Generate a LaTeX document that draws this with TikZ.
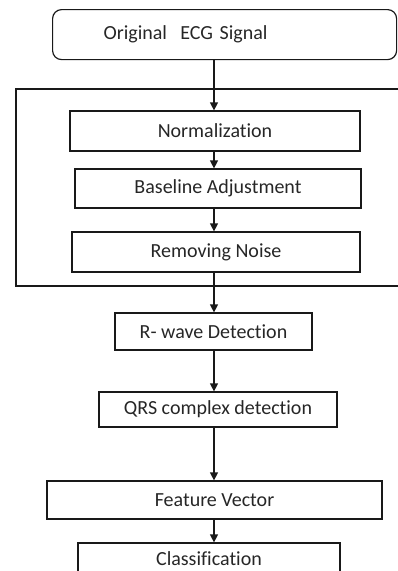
\documentclass[tikz,border=0pt]{standalone}
\usepackage{fontspec}
\setmainfont[Ligatures=NoCommon]{Carlito}
\usetikzlibrary{arrows.meta}

\begin{document}
\begin{tikzpicture}[x=1pt,y=-1pt,>={Triangle[length=8pt,width=8pt]},
  stage/.style={draw=black!90,line width=1.2pt,inner sep=0pt,text=black!85,
    font=\fontsize{20}{24}\selectfont},
  link/.style={->,draw=black!90,line width=1.2pt}]
\useasboundingbox (0,0) rectangle (398,571);
% input signal
\node[stage,rounded corners=9pt,anchor=north west,minimum width=344,minimum height=50,
  inner xsep=51,text width=242,align=left] (orig) at (52,9) {Original\ \ ECG Signal};
% preprocessing block
\draw[draw=black!90,line width=1.2pt] (398,89) -- (16,89) -- (16,286) -- (398,286);
\node[stage,minimum width=290,minimum height=40] (norm) at (215,131) {Normalization};
\node[stage,minimum width=286,minimum height=39] (base) at (218,188.5) {Baseline Adjustment};
\node[stage,minimum width=288,minimum height=40] (noise) at (216,252) {Removing Noise};
% detection and features
\node[stage,minimum width=197,minimum height=37] (rwave) at (213.5,331.5) {R- wave Detection};
\node[stage,minimum width=238,minimum height=35] (qrs) at (218,409.5) {QRS complex detection};
\node[stage,minimum width=335,minimum height=38] (feat) at (214.5,500) {Feature Vector};
\node[stage,minimum width=262,minimum height=32] (class) at (209,559) {Classification};
% connectors
\coordinate (axis) at (214,0);
\draw[link] (orig.south -| axis) -- (norm.north -| axis);
\draw[link] (norm.south -| axis) -- (base.north -| axis);
\draw[link] (base.south -| axis) -- (noise.north -| axis);
\draw[link] (noise.south -| axis) -- (rwave.north -| axis);
\draw[link] (rwave.south -| axis) -- (qrs.north -| axis);
\draw[link] (qrs.south -| axis) -- (feat.north -| axis);
\draw[link] (feat.south -| axis) -- (class.north -| axis);
\end{tikzpicture}
\end{document}
